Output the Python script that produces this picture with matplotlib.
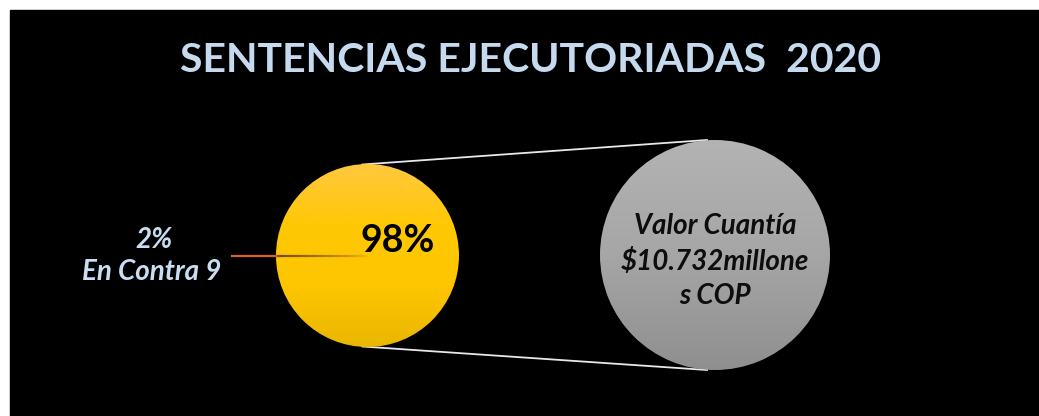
import numpy as np
import matplotlib
matplotlib.use("Agg")
import matplotlib.pyplot as plt
from matplotlib.patches import Rectangle, Circle
from matplotlib.colors import LinearSegmentedColormap

# data
title = "SENTENCIAS EJECUTORIADAS  2020"
main_labels = ["En Contra", "A Favor"]
main_values = [2, 98]
main_counts = [9, None]
second_values = [100]
second_text = "Valor Cuantía\n$10.732millone\ns COP"

W, H = 1039, 416
fig = plt.figure(figsize=(W / 100, H / 100), dpi=100, facecolor="white")
ax = fig.add_axes([0, 0, 1, 1])

# black panel
ax.add_patch(Rectangle((10, 10), W - 10, H - 10, color="black", zorder=0))

# left pie
cx, cy, r = 367.5, 255.5, 91.5
half = main_values[0] / sum(main_values) * 360 / 2
wedges, _ = ax.pie(main_values, center=(cx, cy), radius=r,
                   startangle=180 - half, counterclock=True,
                   colors=["none", "none"], frame=True,
                   wedgeprops=dict(linewidth=0))

gold = LinearSegmentedColormap.from_list("gold", ["#ffc83e", "#ffc804", "#fec600", "#eab700"])
grad = np.linspace(0, 1, 256).reshape(-1, 1)
disk = Circle(wedges[1].center, wedges[1].r, transform=ax.transData)
im = ax.imshow(grad, cmap=gold, aspect="auto", origin="upper",
               extent=(cx - r, cx + r, cy + r, cy - r), zorder=2)
im.set_clip_path(disk)

# slice border line for the small slice + leader
ang = np.deg2rad(180)
x_edge = cx + r * np.cos(ang)
n = 40
xs = np.linspace(x_edge, cx, n + 1)
for i in range(n):
    t = i / n
    ax.plot(xs[i:i + 2], [cy, cy], color="#7a4510", alpha=(1 - t) ** 0.7, lw=1.6,
            solid_capstyle="butt", zorder=3)
ax.plot([232, x_edge], [cy, cy], color="#d4661c", lw=1.6, zorder=3)

pct = [v / sum(main_values) * 100 for v in main_values]
ax.text(398, 241, f"{pct[1]:.0f}%", ha="center", va="center",
        fontsize=27, fontweight="bold", family="Lato", color="black", zorder=4)
ax.text(154, 240, f"{pct[0]:.0f}%", ha="center", va="center", fontsize=20,
        fontweight="bold", style="italic", family="Lato", color="#c9def2", zorder=4)
ax.text(152, 272, f"{main_labels[0]} {main_counts[0]}", ha="center", va="center",
        fontsize=20, fontweight="bold", style="italic", family="Lato",
        color="#c9def2", zorder=4)

# right pie
cx2, cy2, r2 = 715, 255, 115
w2, _ = ax.pie(second_values, center=(cx2, cy2), radius=r2, colors=["none"],
               frame=True, wedgeprops=dict(linewidth=0))
grey = LinearSegmentedColormap.from_list("grey", ["#b3b3b3", "#a6a6a6", "#8f8f8f"])
im = ax.imshow(grad, cmap=grey, aspect="auto", origin="upper",
               extent=(cx2 - r2, cx2 + r2, cy2 + r2, cy2 - r2), zorder=2)
im.set_clip_path(w2[0])
ax.text(cx2, 261, second_text, ha="center", va="center", fontsize=20,
        fontweight="bold", style="italic", family="Lato", color="#0d0d0d",
        linespacing=1.38, zorder=4)

# connector lines
ax.plot([cx - 5, cx2 - 8], [cy - r + 0.5, cy2 - r2], color="#e8e8e8", lw=1.3, zorder=1)
ax.plot([cx - 5, cx2 - 8], [cy + r - 0.5, cy2 + r2], color="#e8e8e8", lw=1.3, zorder=1)

ax.text(531, 61, title, ha="center", va="center", fontsize=29.5,
        fontweight="bold", family="Lato", color="#c6daef", zorder=4)

ax.set_xlim(0, W)
ax.set_ylim(H, 0)
ax.set_aspect("auto")
ax.axis("off")

fig.savefig("out.png", dpi=100, facecolor="white")
